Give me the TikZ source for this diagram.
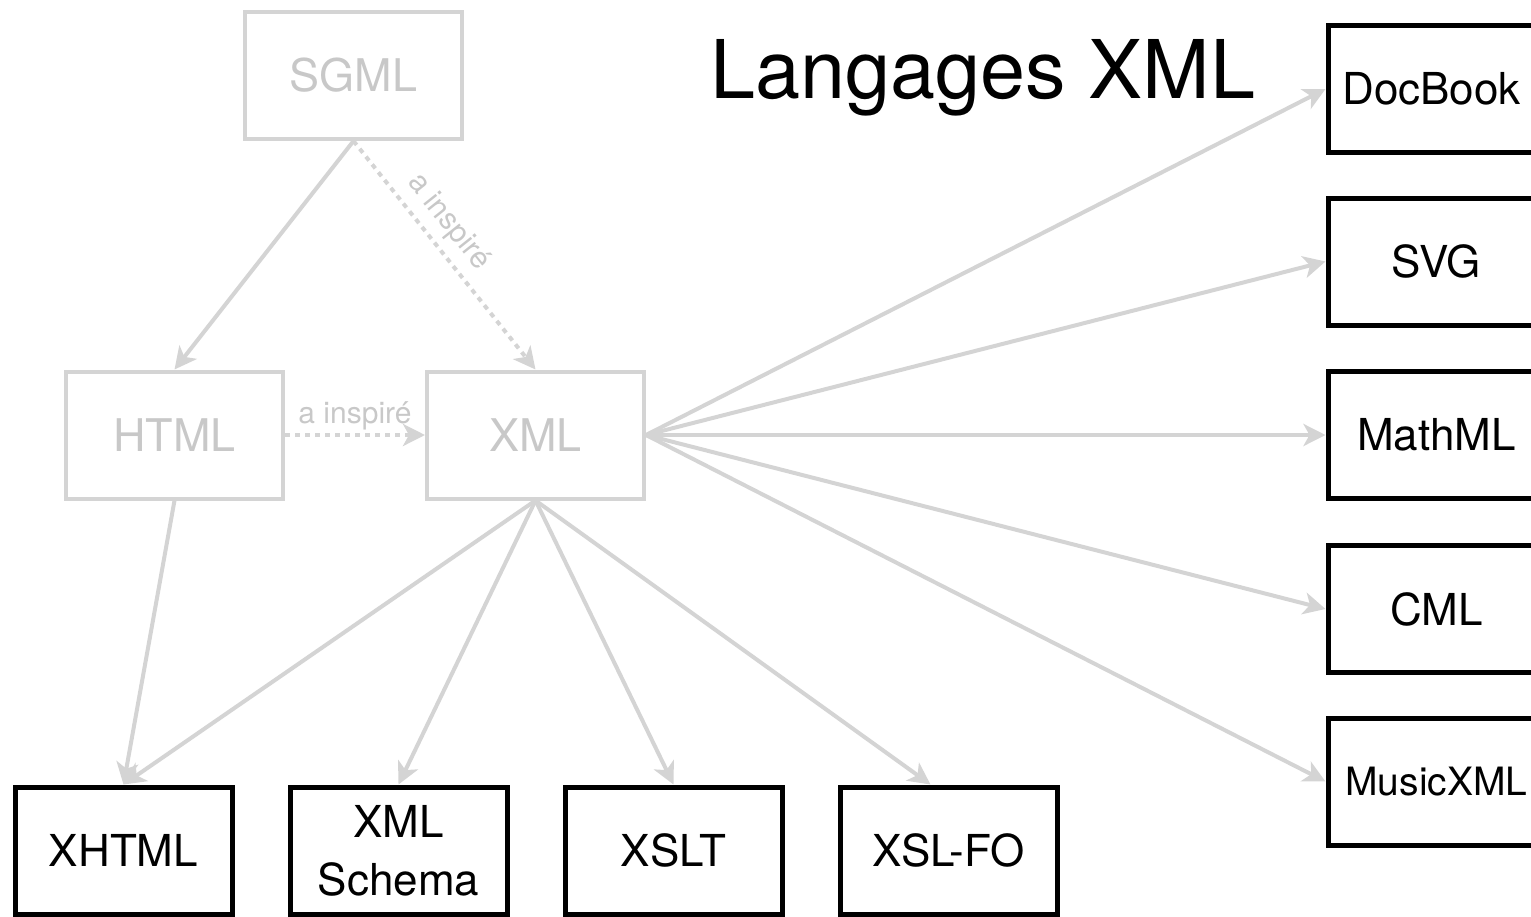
\documentclass[tikz,border=0pt]{standalone}
\usepackage{fontspec}
\setmainfont{TeX Gyre Heros}
\usetikzlibrary{arrows.meta}
\definecolor{lgray}{RGB}{212,212,212}
\definecolor{tgray}{RGB}{200,200,200}

\begin{document}
\begin{tikzpicture}[x=1pt, y=-1pt,
  >={Stealth[length=22pt,width=22pt,inset=6pt]},
  old/.style={draw=lgray, line width=4pt, text=tgray, minimum width=217pt, minimum height=127pt, font=\fontsize{45}{50}\selectfont},
  lang/.style={draw=black, line width=5pt, minimum width=217pt, minimum height=127pt, align=center, font=\fontsize{44}{58}\selectfont},
  link/.style={draw=lgray, line width=4pt, ->},
  insp/.style={link, dash pattern=on 5pt off 5pt},
  lbl/.style={text=tgray, font=\fontsize{30}{34}\selectfont}]
  \useasboundingbox (0,0) rectangle (1531,916);

  \node (title) at (983,78) {\fontsize{81}{86}\selectfont Langages XML};

  \node [old] (sgml) at (353.5, 75.5) {SGML};
  \node [old] (html) at (174.5, 435) {HTML};
  \node [old] (xml)  at (535.5, 435) {XML};

  \node [lang] (xhtml)  at (123.5, 850.5) {XHTML};
  \node [lang] (schema) at (398.5, 850.5) {XML\\Schema};
  \node [lang] (xslt)   at (673.5, 850.5) {XSLT};
  \node [lang] (xslfo)  at (948.5, 850.5) {XSL-FO};

  \node [lang] (docbook)  at (1436.5, 89)    {\hspace*{-10pt}DocBook};
  \node [lang] (svg)      at (1436.5, 261.5) {SVG};
  \node [lang] (mathml)   at (1436.5, 435)   {MathML};
  \node [lang] (cml)      at (1436.5, 609)   {CML};
  \node [lang, font=\fontsize{39}{44}\selectfont] (musicxml) at (1436.5, 781.5) {MusicXML};

  % heritage
  \path [link] (sgml.south) -- (html.north);
  \path [insp] (sgml.south) -- node [lbl, sloped, above=4pt, pos=0.42] {a inspiré} (xml.north);
  \path [insp] (html.east) -- node [lbl, above] {a inspiré} (xml.west);
  \path [link] (html.south) -- (xhtml.north);

  % langages
  \foreach \n in {xhtml, schema, xslt}
    \path [link] (xml.south) -- (\n.north);
  \path [link] (xml.south) -- ([xshift=-18pt]xslfo.north);
  \foreach \n in {docbook, svg, mathml, cml, musicxml}
    \path [link] (xml.east) -- (\n.west);
\end{tikzpicture}
\end{document}
